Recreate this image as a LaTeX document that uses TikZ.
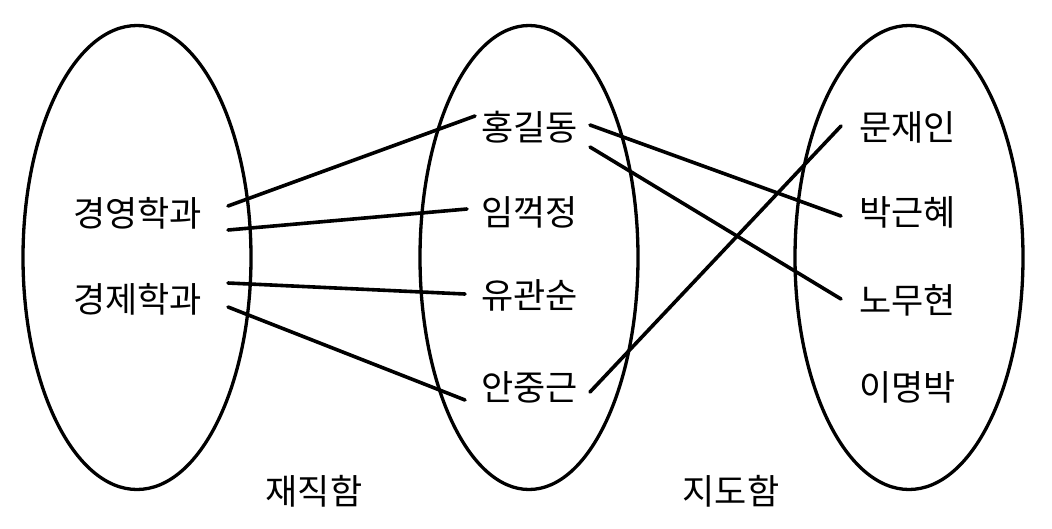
\documentclass[tikz,border=0pt]{standalone}
\usepackage{fontspec}
\setmainfont{Noto Sans CJK KR}
\begin{document}
\begin{tikzpicture}[x=1pt,y=-1pt,
  lbl/.style={inner sep=0pt,font=\fontsize{35pt}{38pt}\selectfont},
  set/.style={line width=3.3pt},
  link/.style={line width=3.6pt,line cap=round}]
\useasboundingbox (0,0) rectangle (1052,528);
% sets
\draw[set] (137,257.5) ellipse [x radius=114pt, y radius=232pt];
\draw[set] (529,257.5) ellipse [x radius=109pt, y radius=232pt];
\draw[set] (909,257.5) ellipse [x radius=114pt, y radius=232pt];
% left
\node[lbl] (gy) at (137.5,213) {경영학과};
\node[lbl] (gj) at (137.5,299) {경제학과};
% middle
\node[lbl] (h) at (529.5,127) {홍길동};
\node[lbl] (l) at (529.5,212) {임꺽정};
\node[lbl] (u) at (529.5,295) {유관순};
\node[lbl] (a) at (529.5,387) {안중근};
% right
\node[lbl] (m) at (907.5,127) {문재인};
\node[lbl] (p) at (907.5,212) {박근혜};
\node[lbl] (n) at (907.5,300) {노무현};
\node[lbl] (i) at (907.5,387) {이명박};
% captions
\node[lbl] (c1) at (314,491) {재직함};
\node[lbl] (c2) at (731,491) {지도함};
% links
\draw[link] ([shift={(90.5,-7)}]gy.center) -- ([shift={(-54.5,-11)}]h.center);
\draw[link] ([shift={(90.5,17)}]gy.center) -- ([shift={(-62.5,-3)}]l.center);
\draw[link] ([shift={(90.5,-16)}]gj.center) -- ([shift={(-64.5,-1)}]u.center);
\draw[link] ([shift={(90.5,8)}]gj.center) -- ([shift={(-64.5,13)}]a.center);
\draw[link] ([shift={(60.5,-2)}]h.center) -- ([shift={(-66.5,4)}]p.center);
\draw[link] ([shift={(60.5,20)}]h.center) -- ([shift={(-66.5,-1)}]n.center);
\draw[link] ([shift={(60.5,5)}]a.center) -- ([shift={(-66.5,-1)}]m.center);
\end{tikzpicture}
\end{document}
